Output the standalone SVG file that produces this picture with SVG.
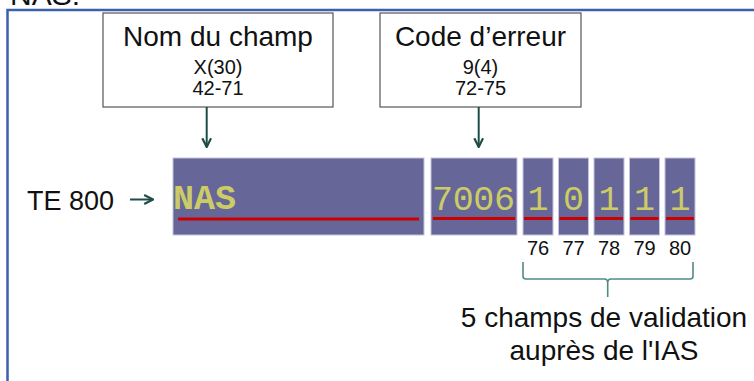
<svg xmlns="http://www.w3.org/2000/svg" width="754" height="381" viewBox="0 0 754 381">
<defs>
<style>
.t{font-family:"Liberation Sans",Arial,sans-serif;fill:#111}
.box{fill:#fff;stroke:#555;stroke-width:1.2}
.cell{fill:#666699;stroke:#c4c4dc;stroke-width:1}
.red{stroke:#cc0000;stroke-width:3}
.mono{font-family:"Liberation Mono","Courier New",monospace;fill:#cccc66;font-size:35px}
.conn{stroke:#1e4d48;stroke-width:2;fill:none}
</style>
<marker id="ah" viewBox="0 0 10 10" refX="9" refY="5" markerWidth="11" markerHeight="11" markerUnits="userSpaceOnUse" orient="auto">
<path d="M1,1 L9,5 L1,9" fill="none" stroke="#1e4d48" stroke-width="2"/>
</marker>
</defs>
<rect width="754" height="381" fill="#fff"/>
<text class="t" x="10" y="5" font-size="30">NAS:</text>
<path d="M7.5,381 V10 H754" fill="none" stroke="#3b62a9" stroke-width="2.5"/>

<g id="nom">
<rect class="box" x="103" y="13" width="230" height="94"/>
<text class="t" x="218" y="46" font-size="28" text-anchor="middle">Nom du champ</text>
<text class="t" x="218" y="74" font-size="20" text-anchor="middle">X(30)</text>
<text class="t" x="218" y="95" font-size="20" text-anchor="middle">42-71</text>
</g>
<g id="code">
<rect class="box" x="380" y="13" width="201" height="94"/>
<text class="t" x="480.5" y="46" font-size="28" text-anchor="middle">Code d’erreur</text>
<text class="t" x="480.5" y="74" font-size="20" text-anchor="middle">9(4)</text>
<text class="t" x="480.5" y="95" font-size="20" text-anchor="middle">72-75</text>
</g>
<g id="te800">
<text class="t" x="27" y="210" font-size="27">TE 800</text>
</g>
<g id="nas">
<rect class="cell" x="173" y="158" width="251" height="77"/>
<line class="red" x1="178" y1="219" x2="419" y2="219"/>
<text class="mono" x="173" y="209" font-size="36" font-weight="bold">NAS</text>
</g>
<g id="err">
<rect class="cell" x="431" y="158" width="86" height="77"/>
<line class="red" x1="433" y1="218.5" x2="515" y2="218.5"/>
<text class="mono" x="432" y="210" textLength="83">7006</text>
</g>
<g id="v76">
<rect class="cell" x="523" y="158" width="30" height="77"/>
<line class="red" x1="524" y1="218.5" x2="552" y2="218.5"/>
<text class="mono" x="538" y="210" text-anchor="middle">1</text>
<text class="t" x="538" y="255" font-size="20" text-anchor="middle">76</text>
</g>
<g id="v77">
<rect class="cell" x="558.5" y="158" width="30" height="77"/>
<line class="red" x1="559.5" y1="218.5" x2="587.5" y2="218.5"/>
<text class="mono" x="573.5" y="210" text-anchor="middle">0</text>
<text class="t" x="573.5" y="255" font-size="20" text-anchor="middle">77</text>
</g>
<g id="v78">
<rect class="cell" x="594" y="158" width="30" height="77"/>
<line class="red" x1="595" y1="218.5" x2="623" y2="218.5"/>
<text class="mono" x="609" y="210" text-anchor="middle">1</text>
<text class="t" x="609" y="255" font-size="20" text-anchor="middle">78</text>
</g>
<g id="v79">
<rect class="cell" x="629.5" y="158" width="30" height="77"/>
<line class="red" x1="630.5" y1="218.5" x2="658.5" y2="218.5"/>
<text class="mono" x="644.5" y="210" text-anchor="middle">1</text>
<text class="t" x="644.5" y="255" font-size="20" text-anchor="middle">79</text>
</g>
<g id="v80">
<rect class="cell" x="665" y="158" width="30" height="77"/>
<line class="red" x1="666" y1="218.5" x2="694" y2="218.5"/>
<text class="mono" x="680" y="210" text-anchor="middle">1</text>
<text class="t" x="680" y="255" font-size="20" text-anchor="middle">80</text>
</g>
<g id="validation">
<text class="t" x="604" y="327" font-size="28" text-anchor="middle">5 champs de validation</text>
<text class="t" x="604" y="360" font-size="28" text-anchor="middle">auprès de l'IAS</text>
</g>
<g id="connectors">
<line class="conn" x1="206.7" y1="107" x2="206.7" y2="147" marker-end="url(#ah)"/>
<line class="conn" x1="478.7" y1="107" x2="478.7" y2="147" marker-end="url(#ah)"/>
<line class="conn" x1="130" y1="199.5" x2="153" y2="199.5" marker-end="url(#ah)"/>
<path d="M523,262 V276 Q523,279 526,279 H604.5 Q607.7,279 607.7,283 V297 M607.7,283 Q607.7,279 611,279 H690 Q693,279 693,276 V262" fill="none" stroke="#4f8a8b" stroke-width="1.6"/>
</g>
</svg>
